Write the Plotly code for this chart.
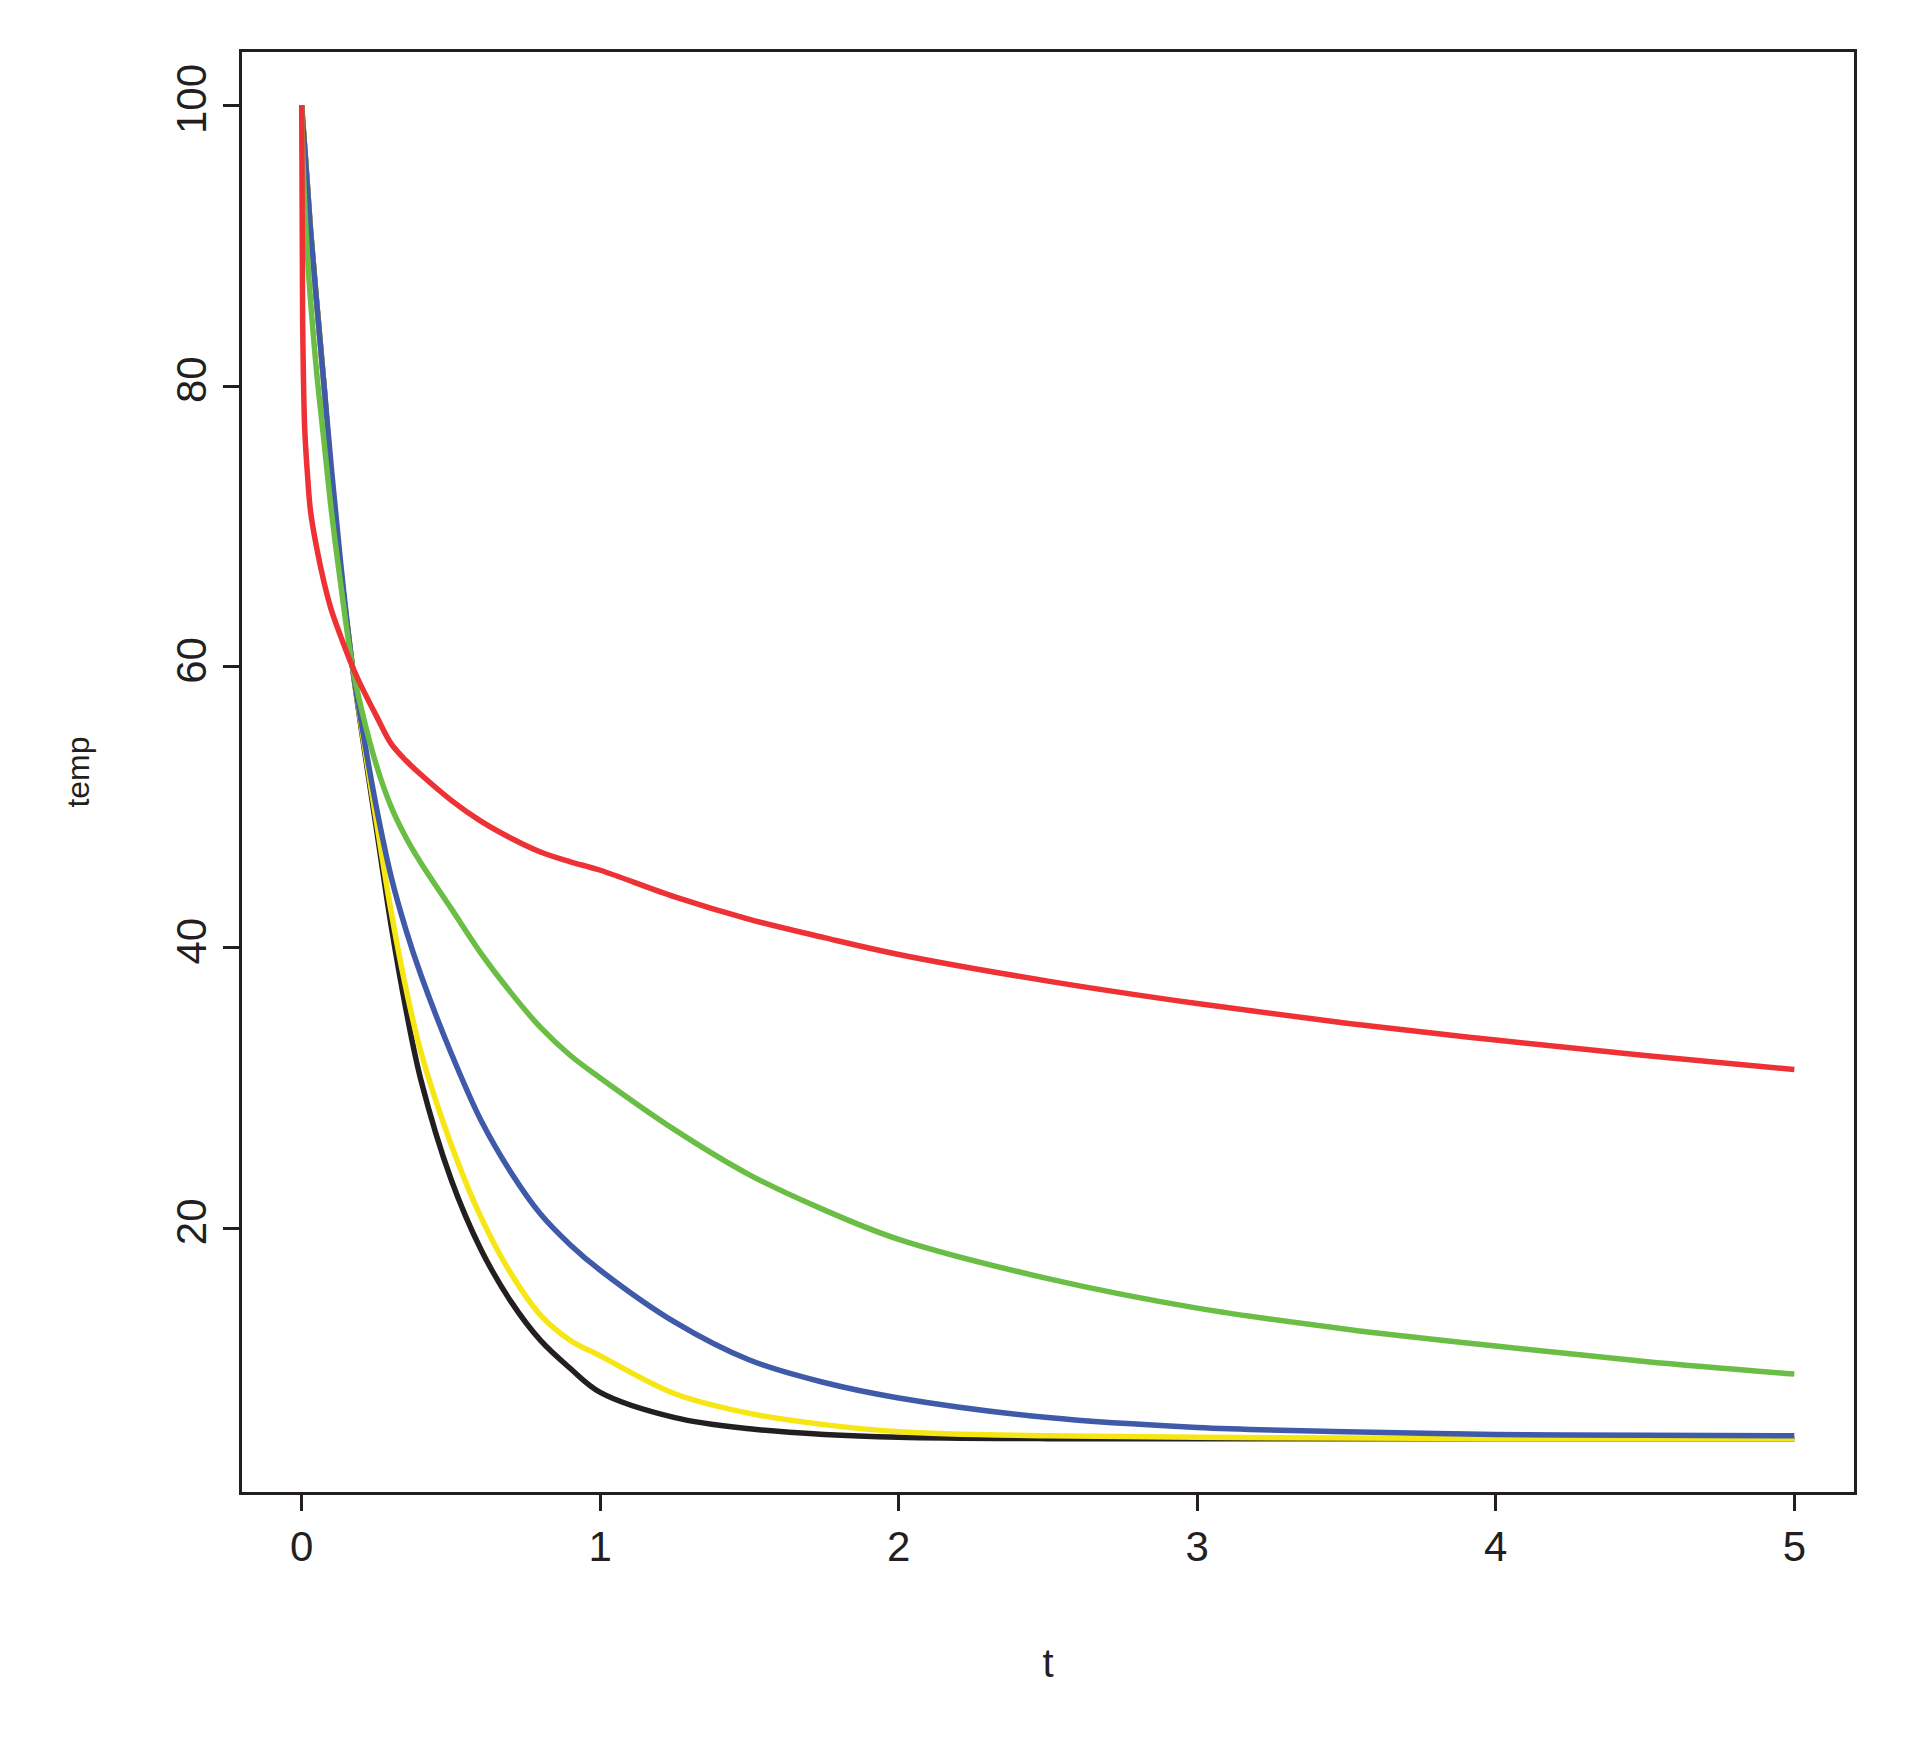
import plotly.graph_objects as go

# values
t = [0, 0.003, 0.01, 0.02, 0.03, 0.05, 0.075, 0.1, 0.13, 0.17, 0.2, 0.25, 0.3, 0.35,
     0.4, 0.5, 0.6, 0.7, 0.8, 0.9, 1.0, 1.25, 1.5, 1.75, 2.0, 2.5, 3.0, 3.5, 4.0, 4.5, 5.0]
black = [100, 99, 97, 94, 91, 86, 80, 73, 67, 60, 55.5, 48.5, 41.5, 35.5, 30.5, 23.5,
         18.5, 14.8, 12.0, 10.0, 8.3, 6.5, 5.7, 5.3, 5.1, 5.0, 5.0, 5.0, 5.0, 5.0, 5.0]
yellow = [100, 99, 97, 94, 91, 86, 80, 73, 67, 60, 55.7, 49, 42.5, 37, 32.5, 26,
          20.8, 16.8, 13.8, 12.0, 10.9, 8.2, 6.8, 6.0, 5.5, 5.2, 5.1, 5.05, 5.0, 5.0, 5.0]
blue = [100, 99, 97, 94, 91, 86, 80, 74, 67.5, 60, 56, 50, 45, 41.2, 38, 32.5,
        27.7, 24, 21, 18.8, 17.0, 13.3, 10.6, 9.0, 7.9, 6.5, 5.8, 5.5, 5.3, 5.25, 5.2]
green = [100, 97, 93, 89, 86, 81, 76, 71, 66, 60, 57, 53, 50, 47.8, 46, 42.8,
         39.6, 36.8, 34.3, 32.3, 30.7, 27, 23.8, 21.3, 19.2, 16.4, 14.3, 12.8, 11.6, 10.5, 9.6]
red = [100, 85, 77, 73.5, 71, 68.5, 66, 64, 62.2, 60, 58.6, 56.5, 54.5, 53.3, 52.3, 50.5,
       49, 47.8, 46.8, 46.1, 45.5, 43.6, 42, 40.7, 39.5, 37.6, 36, 34.6, 33.4, 32.3, 31.3]

series = [("black", black, "#231f20"), ("yellow", yellow, "#f5e614"),
          ("blue", blue, "#3f5aa8"), ("green", green, "#6abd45"),
          ("red", red, "#ee3135")]

fig = go.Figure()
for name, ys, col in series:
    fig.add_scatter(x=t, y=ys, name=name, mode="lines",
                    line=dict(color=col, width=5.5, shape="spline", smoothing=1.0))

font = "Liberation Sans, Arial"
axis_common = dict(showline=True, linecolor="#231f20", linewidth=2.5, mirror=True,
                   ticks="outside", ticklen=16, tickwidth=2.5, tickcolor="#231f20",
                   showgrid=False, zeroline=False,
                   tickfont=dict(family=font, size=42, color="#231f20"))
fig.update_xaxes(range=[-0.2, 5.2], tickvals=[0, 1, 2, 3, 4, 5],
                 title=dict(text="t", font=dict(family=font, size=40, color="#231f20"),
                            standoff=80),
                 **axis_common)
fig.update_yaxes(range=[1.2, 103.8], tickvals=[20, 40, 60, 80, 100], tickangle=-90,
                 title=dict(text="temp", font=dict(family=font, size=32, color="#231f20"),
                            standoff=70),
                 **axis_common)
fig.update_layout(width=1906, height=1753, showlegend=False,
                  plot_bgcolor="white", paper_bgcolor="white",
                  margin=dict(l=234, r=60, t=44, b=269))
fig.write_html("out.html")
